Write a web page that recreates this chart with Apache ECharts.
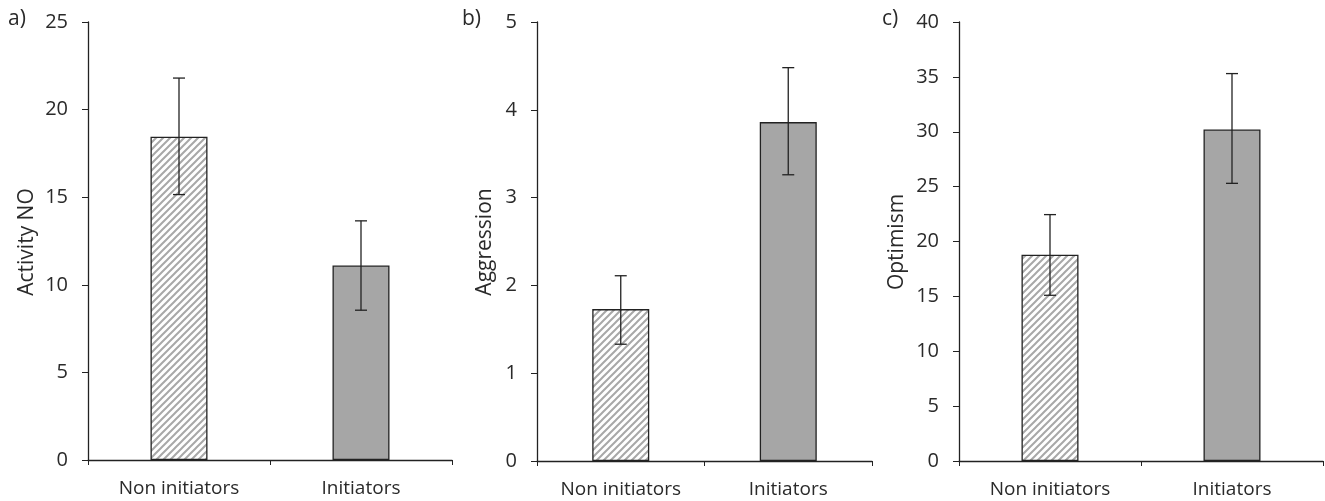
<!DOCTYPE html>
<html>
<head>
<meta charset="utf-8">
<script src="https://cdn.jsdelivr.net/npm/echarts@6/dist/echarts.min.js"></script>
<style>
  html, body { margin: 0; padding: 0; background: #fff; }
  #chart { width: 1325px; height: 501px; }
</style>
</head>
<body>
<div id="chart"></div>
<script>
  // data
  const categories = ['Non initiators', 'Initiators']
  const panelLetters = ['a)', 'b)', 'c)']
  const axisNames = ['Activity NO', 'Aggression', 'Optimism']
  const axisMax = [25, 5, 40]
  const axisStep = [5, 1, 5]
  const activityMean = [18.45, 11.1]
  const activityLow = [15.15, 8.55]
  const activityHigh = [21.8, 13.65]
  const aggressionMean = [1.73, 3.86]
  const aggressionLow = [1.33, 3.26]
  const aggressionHigh = [2.11, 4.48]
  const optimismMean = [18.8, 30.2]
  const optimismLow = [15.1, 25.3]
  const optimismHigh = [22.45, 35.3]

  const means = [activityMean, aggressionMean, optimismMean]
  const lows = [activityLow, aggressionLow, optimismLow]
  const highs = [activityHigh, aggressionHigh, optimismHigh]

  // hatch pattern for the non initiators bars
  function hatch () {
    const c = document.createElement('canvas')
    c.width = 7
    c.height = 7
    const ctx = c.getContext('2d')
    ctx.strokeStyle = '#a8a8a8'
    ctx.lineWidth = 2
    ctx.beginPath()
    ctx.moveTo(-1, 8); ctx.lineTo(8, -1)
    ctx.moveTo(-4, 4); ctx.lineTo(4, -4)
    ctx.moveTo(3, 11); ctx.lineTo(11, 3)
    ctx.stroke()
    return c
  }
  const hatchFill = { image: hatch(), repeat: 'repeat' }

  const grids = [
    { left: 88, right: 873, top: 22, bottom: 41 },
    { left: 537, right: 453, top: 22, bottom: 40 },
    { left: 959, right: 2, top: 22, bottom: 40 }
  ]
  const nameX = [27, 485, 897]
  const letterX = [8, 462, 882]
  const font = '"Open Sans", sans-serif'
  const textColor = '#2a2a2a'

  const xAxis = []
  const yAxis = []
  const series = []
  const graphic = []
  grids.forEach((g, i) => {
    xAxis.push({
      type: 'category',
      gridIndex: i,
      data: categories,
      axisLine: { lineStyle: { color: '#222', width: 1.3 } },
      axisTick: { show: true, length: 5, lineStyle: { color: '#222' } },
      axisLabel: { color: textColor, fontSize: 19, fontFamily: font, margin: 19 }
    })
    yAxis.push({
      type: 'value',
      gridIndex: i,
      min: 0,
      max: axisMax[i],
      interval: axisStep[i],
      splitLine: { show: false },
      axisLine: { show: true, lineStyle: { color: '#222', width: 1.3 } },
      axisTick: { show: true, length: 6, lineStyle: { color: '#222' } },
      axisLabel: { color: textColor, fontSize: 20, fontFamily: font, margin: 20 }
    })
    series.push({
      type: 'bar',
      xAxisIndex: i,
      yAxisIndex: i,
      barWidth: 57,
      data: means[i].map((v, k) => ({
        value: v,
        itemStyle: {
          color: k === 0 ? hatchFill : '#a6a6a6',
          borderColor: '#222',
          borderWidth: 1.3
        }
      })),
      z: 2
    })
    series.push({
      type: 'custom',
      xAxisIndex: i,
      yAxisIndex: i,
      data: categories.map((c, k) => [k, lows[i][k], highs[i][k]]),
      z: 5,
      renderItem (params, api) {
        const lo = api.coord([api.value(0), api.value(1)])
        const hi = api.coord([api.value(0), api.value(2)])
        const style = { stroke: '#222', lineWidth: 1.3 }
        const cap = 6
        return {
          type: 'group',
          children: [
            { type: 'line', shape: { x1: hi[0], y1: hi[1], x2: lo[0], y2: lo[1] }, style },
            { type: 'line', shape: { x1: hi[0] - cap, y1: hi[1], x2: hi[0] + cap, y2: hi[1] }, style },
            { type: 'line', shape: { x1: lo[0] - cap, y1: lo[1], x2: lo[0] + cap, y2: lo[1] }, style }
          ]
        }
      }
    })
    graphic.push({
      type: 'text',
      x: nameX[i],
      y: 242,
      rotation: Math.PI / 2,
      style: { text: axisNames[i], fill: textColor, font: '21px ' + font, align: 'center', verticalAlign: 'middle' }
    })
    graphic.push({
      type: 'text',
      left: letterX[i],
      top: 9,
      style: { text: panelLetters[i], fill: textColor, font: '21px ' + font }
    })
  })

  const chart = echarts.init(document.getElementById('chart'))
  chart.setOption({
    animation: false,
    grid: grids,
    xAxis,
    yAxis,
    series,
    graphic
  })
</script>
</body>
</html>
